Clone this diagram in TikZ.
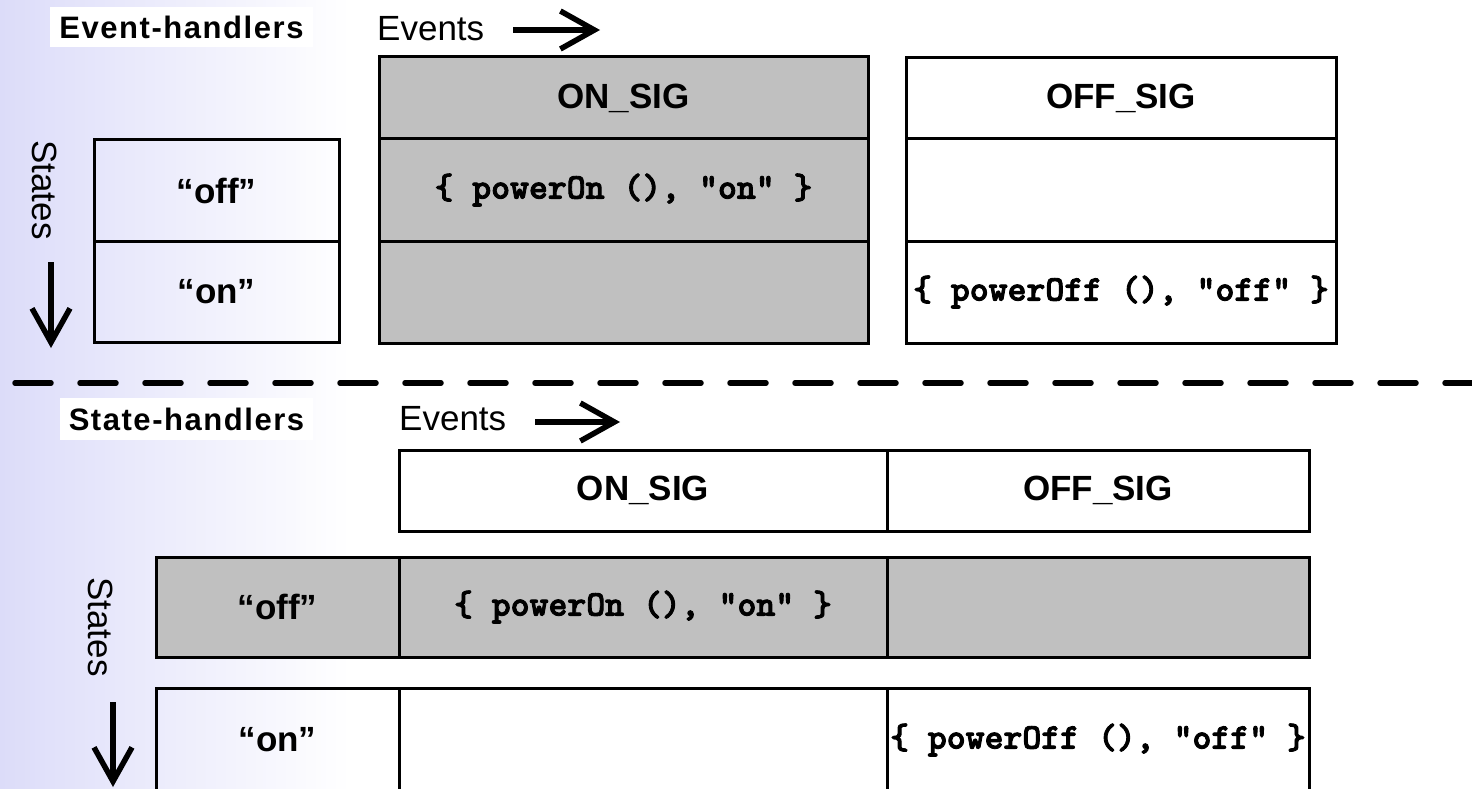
\documentclass[tikz,border=0pt]{standalone}
\usepackage{fontspec}
\setmainfont{Liberation Sans}
\newfontfamily\codefont{lmmonolt10-bold}[Extension=.otf, FakeBold=2.5]
\usetikzlibrary{arrows.meta}
\definecolor{cellgray}{RGB}{192,192,192}
\definecolor{bgblue}{RGB}{220,220,249}
\begin{document}
\begin{tikzpicture}[x=1pt,y=-1pt,
  cell/.style={draw=black, line width=3pt, inner sep=0pt, font=\fontsize{35}{40}\selectfont\bfseries},
  gcell/.style={cell, fill=cellgray},
  code/.style={font=\fontsize{36}{40}\selectfont\codefont},
  title/.style={fill=white, inner sep=0pt, font=\fontsize{31}{36}\selectfont\bfseries\addfontfeature{LetterSpace=5}},
  plain/.style={inner sep=0pt, font=\fontsize{35}{40}\selectfont},
  arr/.style={line width=5.5pt, -{Straight Barb[length=34pt,width=38pt]}},
  sep/.style={line width=5.5pt, line cap=round, dash pattern=on 36pt off 29pt}]
\useasboundingbox (0,0) rectangle (1472,789);
\clip (0,0) rectangle (1472,789);
\fill[white] (0,0) rectangle (1472,789);
\shade[left color=bgblue, right color=white] (0,0) rectangle (350,789);

% ---------- Event-handlers ----------
\node[title, minimum width=263pt, minimum height=40pt] (evh) at (181.5,27) {Event-handlers};
\node[plain, anchor=west] (ev1) at (377,29) {Events};
\coordinate (ev1a) at (513,30);
\coordinate (ev1b) at (600,30);
\draw[arr] (ev1a) -- (ev1b);

\node[plain, rotate=-90] (st1) at (45,190) {States};
\coordinate (st1a) at (51,262);
\coordinate (st1b) at (51,348);
\draw[arr] (st1a) -- (st1b);

\node[cell, minimum width=245pt, minimum height=101pt] (e-off) at (216.5,190.5) {“off”};
\node[cell, minimum width=245pt, minimum height=101pt] (e-on) at (216.5,291.5) {“on”};

\node[gcell, minimum width=489pt, minimum height=82pt] (e-onsig) at (623.5,98) {ON\_SIG};
\node[gcell, minimum width=489pt, minimum height=102pt] (e-onsig-off) at (623.5,190) {};
\node[gcell, minimum width=489pt, minimum height=102pt] (e-onsig-on) at (623.5,292) {};

\node[cell, minimum width=430pt, minimum height=81pt] (e-offsig) at (1121,98.5) {OFF\_SIG};
\node[cell, minimum width=430pt, minimum height=102pt] (e-offsig-off) at (1121,190) {};
\node[cell, minimum width=430pt, minimum height=102pt] (e-offsig-on) at (1121,292) {};

\node[code] (e-c1) at (e-onsig-off.center) {\{ powerOn (), “on” \}};
\node[code] (e-c2) at (e-offsig-on.center) {\{ powerOff (), “off” \}};

% ---------- separator ----------
\coordinate (sepa) at (15,383);
\coordinate (sepb) at (1480,383);
\draw[sep] (sepa) -- (sepb);

% ---------- State-handlers ----------
\node[title, minimum width=253pt, minimum height=42pt] (sth) at (186.5,419) {State-handlers};
\node[plain, anchor=west] (ev2) at (399,419) {Events};
\coordinate (ev2a) at (535,422);
\coordinate (ev2b) at (620,422);
\draw[arr] (ev2a) -- (ev2b);

\node[plain, rotate=-90] (st2) at (101,627) {States};
\coordinate (st2a) at (113,702);
\coordinate (st2b) at (113,787);
\draw[arr] (st2a) -- (st2b);

\node[cell, minimum width=488pt, minimum height=81pt] (s-onsig) at (643,490.5) {ON\_SIG};
\node[cell, minimum width=422pt, minimum height=81pt] (s-offsig) at (1098,490.5) {OFF\_SIG};

\node[gcell, minimum width=243pt, minimum height=100pt] (s-off) at (277.5,607) {“off”};
\node[gcell, minimum width=488pt, minimum height=100pt] (s-off-on) at (643,607) {};
\node[gcell, minimum width=422pt, minimum height=100pt] (s-off-off) at (1098,607) {};

\node[cell, minimum width=243pt, minimum height=104pt] (s-on) at (277.5,740) {“on”};
\node[cell, minimum width=488pt, minimum height=104pt] (s-on-on) at (643,740) {};
\node[cell, minimum width=422pt, minimum height=104pt] (s-on-off) at (1098,740) {};

\node[code] (s-c1) at (s-off-on.center) {\{ powerOn (), “on” \}};
\node[code] (s-c2) at (s-on-off.center) {\{ powerOff (), “off” \}};
\end{tikzpicture}
\end{document}
